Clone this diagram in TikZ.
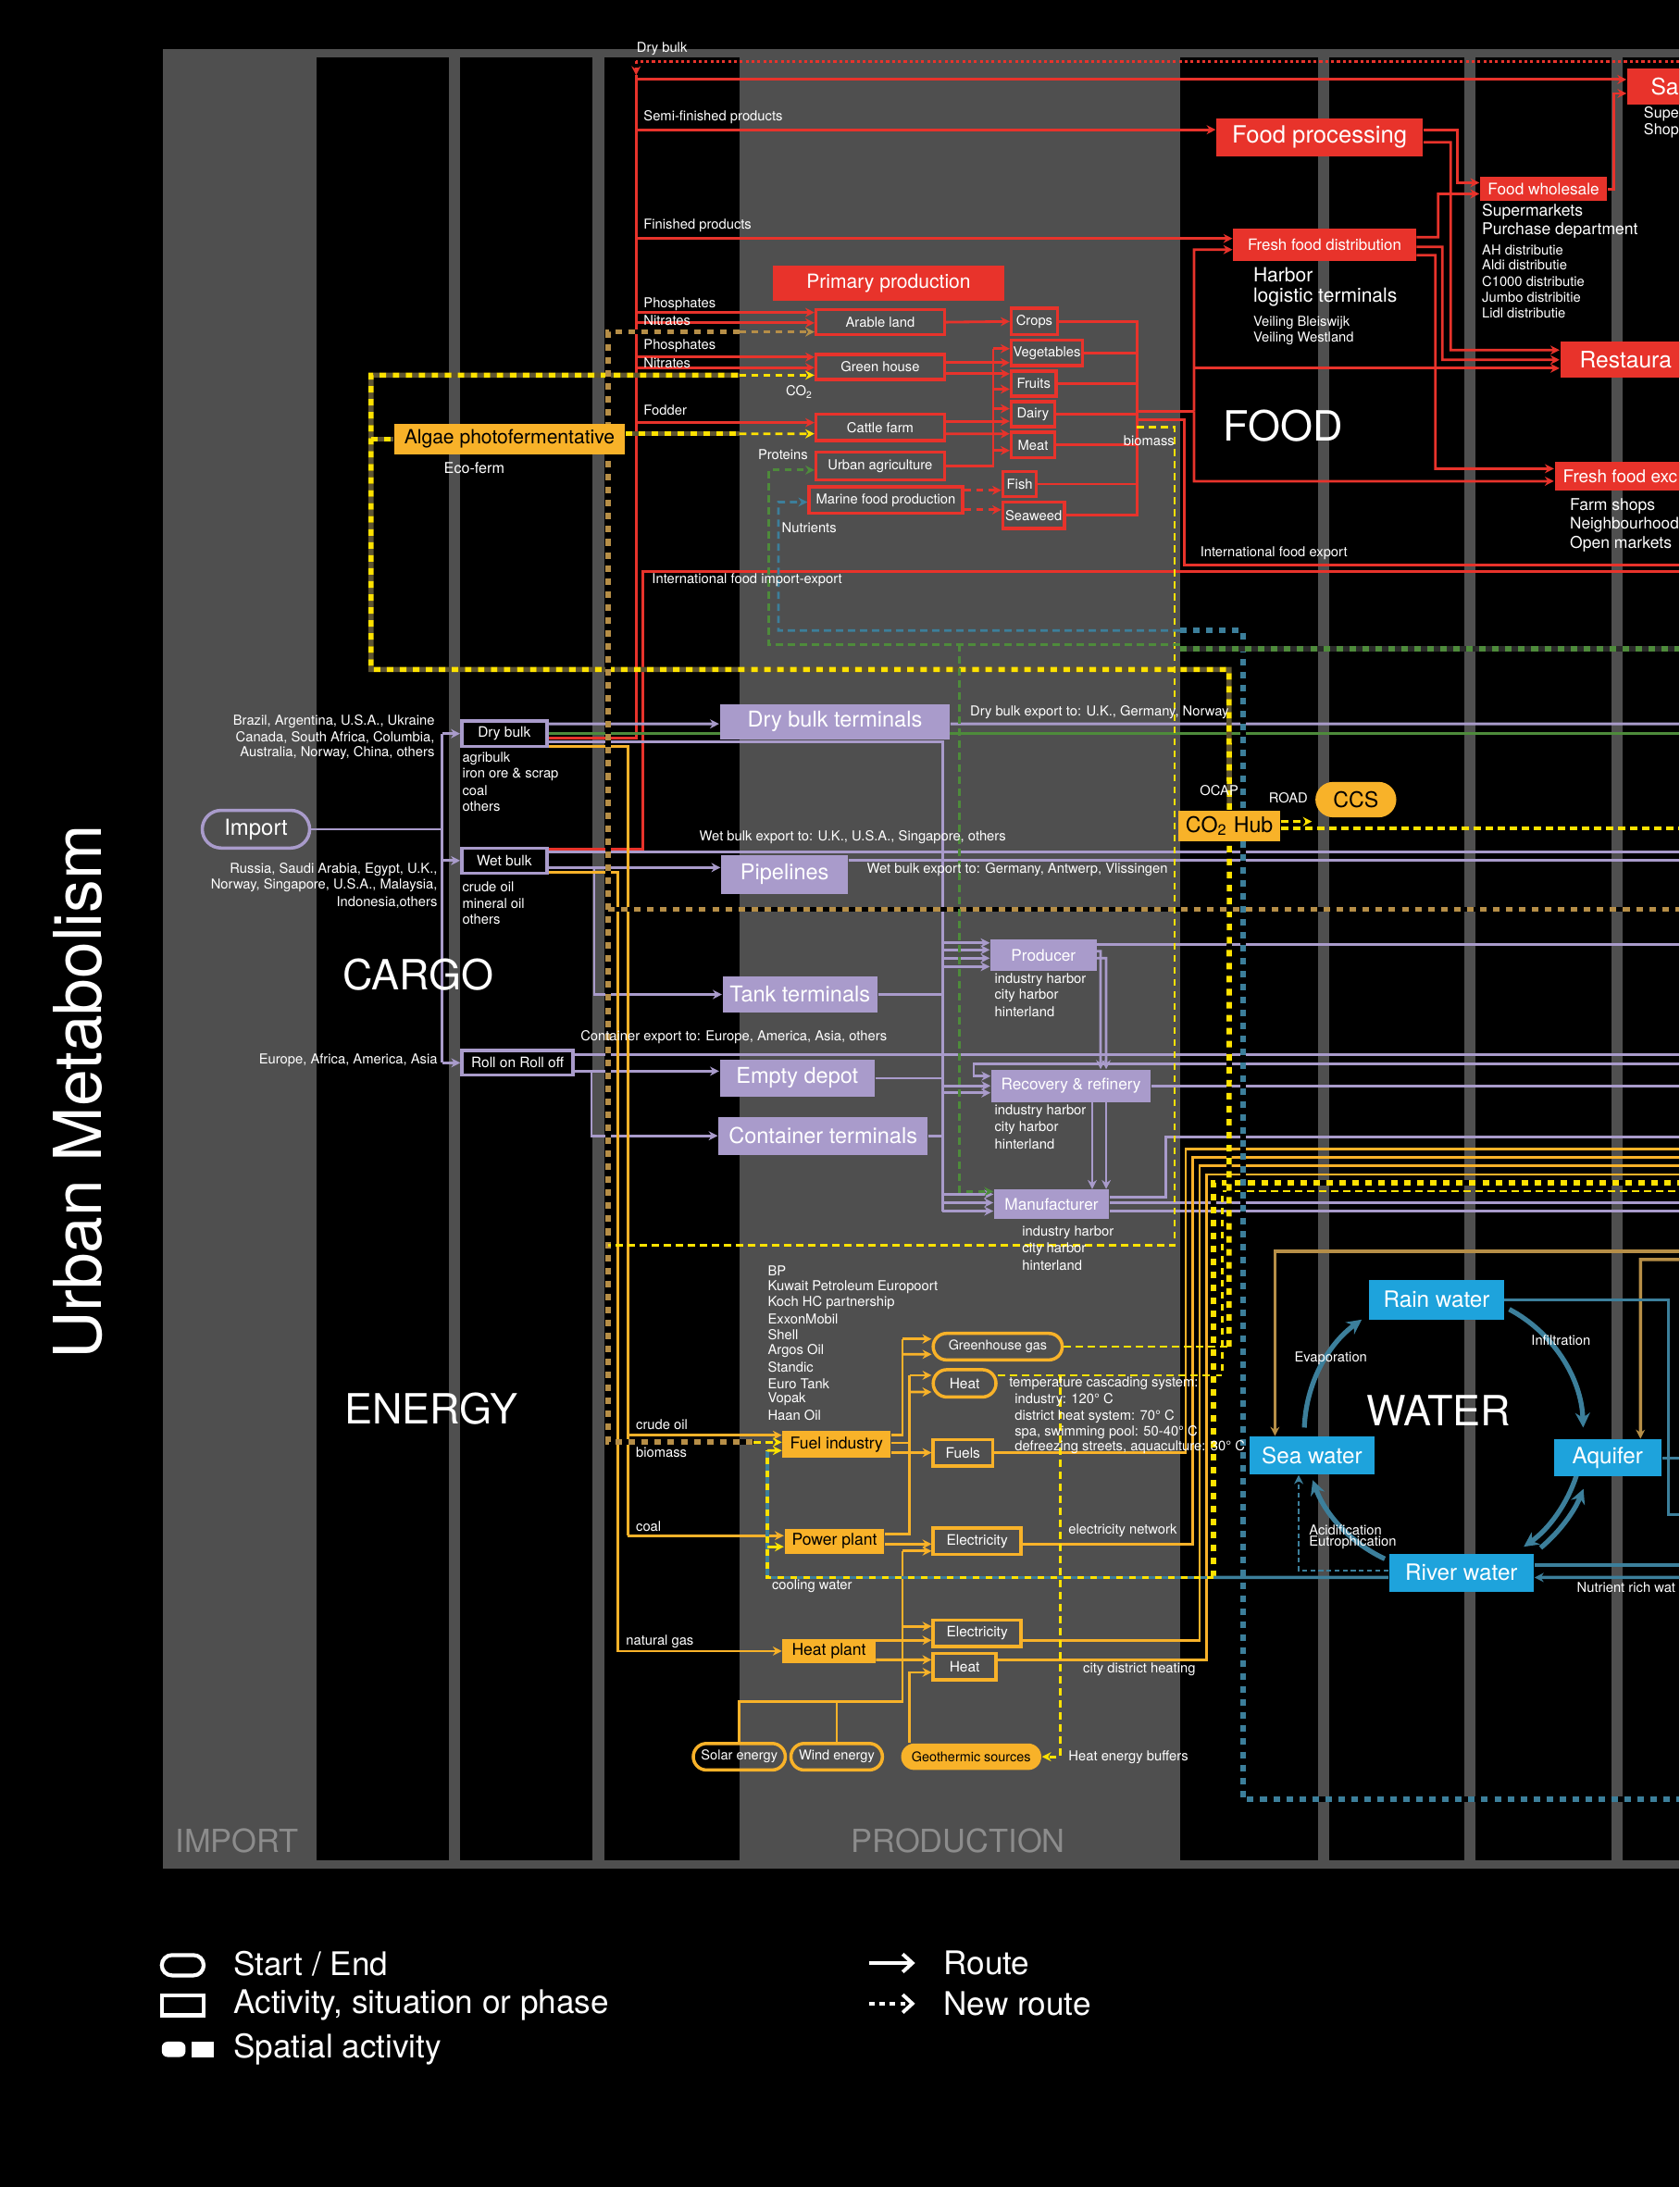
\documentclass[tikz,border=0pt]{standalone}
\usepackage{fontspec}
\setmainfont{TeX Gyre Heros}
\usetikzlibrary{arrows.meta,calc,shapes.misc}
\definecolor{fred}{HTML}{E8332B}
\definecolor{fpurple}{HTML}{A99BCB}
\definecolor{fyel}{HTML}{F8B229}
\definecolor{dyel}{HTML}{FFE200}
\definecolor{fblue}{HTML}{1EA3DC}
\definecolor{fteal}{HTML}{3C7F9B}
\definecolor{fgreen}{HTML}{4E8B3B}
\definecolor{ftan}{HTML}{B68E47}
\definecolor{dolive}{HTML}{5E5432}
\definecolor{fgray}{HTML}{4F4F4F}
\definecolor{lgray}{HTML}{8C8C8C}
\definecolor{dkgray}{HTML}{2A2A2A}
\newcommand\pxu{0.42885pt}
\pgfdeclarelayer{back}
\pgfdeclarelayer{wires}
\pgfsetlayers{back,wires,main}
\tikzset{
  sz/.style 2 args={minimum width=#1*\pxu, minimum height=#2*\pxu, inner sep=0pt},
  lbl/.style={text=white, inner sep=0pt, anchor=west, font=\fontsize{4.2}{5}\selectfont},
  rlbl/.style={lbl, anchor=east},
  clbl/.style={lbl, anchor=center},
  seclbl/.style={text=white, inner sep=0pt, font=\fontsize{12.8}{14}\selectfont},
  colname/.style={text=lgray, inner sep=0pt, font=\fontsize{9.8}{11}\selectfont},
  legtxt/.style={text=white, inner sep=0pt, anchor=west, font=\fontsize{10}{12}\selectfont},
  redfill/.style={fill=fred, text=white},
  redbox/.style={draw=fred, line width=1pt, text=white, font=\fontsize{4.2}{5}\selectfont},
  purfill/.style={fill=fpurple, text=white},
  purbox/.style={draw=fpurple, line width=1pt, text=white, font=\fontsize{4.4}{5}\selectfont},
  yelfill/.style={fill=fyel, text=black},
  yelbox/.style={draw=fyel, line width=1pt, text=white, font=\fontsize{4.4}{5}\selectfont},
  bluefill/.style={fill=fblue, text=white, font=\fontsize{6.9}{8}\selectfont},
  pill/.style={rounded rectangle},
  rl/.style={draw=fred, line width=0.8pt},
  pl/.style={draw=fpurple, line width=0.8pt},
  yl/.style={draw=fyel, line width=0.8pt},
  gl/.style={draw=fgreen, line width=0.8pt},
  tl/.style={draw=fteal, line width=1pt},
  newr/.style={line width=0.8pt, dash pattern=on 2.2pt off 1.5pt},
  arr/.style={-{Stealth[length=2.8pt,width=2.8pt]}},
  spat/.style 2 args={draw=#1, line width=1.6pt, dash pattern=on 2pt off 2pt,
    preaction={draw=#2, line width=1.6pt, dash pattern=on 2pt off 2pt, dash phase=2pt}},
  cool/.style={draw=dyel, line width=1.1pt, dash pattern=on 2pt off 2pt,
    preaction={draw=fteal, line width=1.1pt, dash pattern=on 2pt off 2pt, dash phase=2pt}},
  wloop/.style={draw=fteal, line width=1.5pt, -{Stealth[length=4.5pt,width=4.5pt]}},
}
\begin{document}
\begin{tikzpicture}[x=0.42885pt, y=-0.42885pt]
\useasboundingbox (0,0) rectangle (1204,1568);
\begin{pgfonlayer}{back}
\fill[black] (0,0) rectangle (1204,1568);
\fill[fgray] (117,35) rectangle (1204,1340);
\foreach \xa/\xb in {227/322,330/425,433/530,846/945,953/1050,1058/1155,1163/1204}
  \fill[black] (\xa,41) rectangle (\xb,1334);
\end{pgfonlayer}
\clip (0,0) rectangle (1204,1568);

% titles
\node[text=white, rotate=90, inner sep=0pt, font=\fontsize{20.3}{22}\selectfont] (title) at (56,783) {Urban Metabolism};
\node[colname] (colimport) at (170,1320) {IMPORT};
\node[colname] (colprod) at (687,1320) {PRODUCTION};
\node[seclbl] (food) at (920,305) {FOOD};
\node[seclbl] (cargo) at (300,698.6) {CARGO};
\node[seclbl] (energy) at (309,1010) {ENERGY};
\node[seclbl] (water) at (1031.5,1011) {WATER};

% food
\node[redfill, sz={166}{25}, font=\fontsize{6}{7}\selectfont] (pprod) at (637,203) {Primary production};
\node[redfill, sz={148}{27}, font=\fontsize{7.3}{8}\selectfont] (fproc) at (946,98.5) {Food processing};
\node[redfill, sz={131}{23}, font=\fontsize{4.8}{5}\selectfont] (ffd) at (949.5,175.5) {Fresh food distribution};
\node[redfill, sz={91}{17}, font=\fontsize{4.9}{5}\selectfont] (fwhole) at (1106.5,135.5) {Food wholesale};
\node[redfill, anchor=west, minimum height=26*\pxu, inner xsep=17*\pxu, inner ysep=0pt, font=\fontsize{7}{8}\selectfont] (sales) at (1166,62) {Sa};
\node[redfill, anchor=west, minimum height=26*\pxu, inner xsep=14*\pxu, inner ysep=0pt, font=\fontsize{7}{8}\selectfont] (rest) at (1118,258) {Restaura};
\node[redfill, anchor=west, minimum height=21*\pxu, inner xsep=6*\pxu, inner ysep=0pt, font=\fontsize{5.4}{6}\selectfont] (ffexp) at (1114,341.5) {Fresh food exc};
\node[redbox, sz={92}{18}] (arable) at (631,231) {Arable land};
\node[redbox, sz={92}{18}] (ghouse) at (631,263) {Green house};
\node[redbox, sz={92}{19}] (cattle) at (631,306.5) {Cattle farm};
\node[redbox, sz={92}{20}] (urbagr) at (631,334) {Urban agriculture};
\node[redbox, sz={110}{19}] (marine) at (635,358.5) {Marine food production};
\node[redbox, sz={33}{19}] (crops) at (741.5,230.5) {Crops};
\node[redbox, sz={51}{18}] (veg) at (750.5,253) {Vegetables};
\node[redbox, sz={32}{18}] (fruits) at (741,275) {Fruits};
\node[redbox, sz={31}{18}] (dairy) at (740.5,297) {Dairy};
\node[redbox, sz={31}{18}] (meat) at (740.5,319) {Meat};
\node[redbox, sz={24}{18}] (fish) at (731,347) {Fish};
\node[redbox, sz={44}{19}] (seaweed) at (741,369.5) {Seaweed};

\node[lbl] (ldrybulk) at (456,35) {Dry bulk};
\node[lbl] (lsemi) at (461,84) {Semi-finished products};
\node[lbl] (lfinished) at (461,162) {Finished products};
\node[lbl] (lphos1) at (461,218) {Phosphates};
\node[lbl] (lnitr1) at (461,230) {Nitrates};
\node[lbl] (lphos2) at (461,248) {Phosphates};
\node[lbl] (lnitr2) at (461,260) {Nitrates};
\node[lbl] (lfodder) at (461,294) {Fodder};
\node[lbl] (lco2) at (563,281) {CO\textsubscript{2}};
\node[lbl] (lprot) at (543,326) {Proteins};
\node[lbl] (lnutr) at (560,378.6) {Nutrients};
\node[lbl] (lbiomass) at (805,316) {biomass};
\node[lbl] (lintie) at (467,416) {International food import-export};
\node[lbl] (linte) at (860,396.5) {International food export};
\node[lbl, font=\fontsize{6}{7}\selectfont] (lharbor) at (898,197) {Harbor};
\node[lbl, font=\fontsize{6}{7}\selectfont] (llogi) at (898,213) {logistic terminals};
\node[lbl] (lveil1) at (898,231.6) {Veiling Bleiswijk};
\node[lbl] (lveil2) at (898,242.5) {Veiling Westland};
\node[lbl, font=\fontsize{5}{6}\selectfont] (lsuper) at (1062,152) {Supermarkets};
\node[lbl, font=\fontsize{5}{6}\selectfont] (lpurch) at (1062,165) {Purchase department};
\node[lbl] (lah) at (1062,179) {AH distributie};
\node[lbl] (laldi) at (1062,190) {Aldi distributie};
\node[lbl] (lc1000) at (1062,201.7) {C1000 distributie};
\node[lbl] (ljumbo) at (1062,213.4) {Jumbo distribitie};
\node[lbl] (llidl) at (1062,224.4) {Lidl distributie};
\node[lbl, font=\fontsize{4.6}{5}\selectfont] (lsupe) at (1178,82) {Supe};
\node[lbl, font=\fontsize{4.6}{5}\selectfont] (lshop) at (1178,94) {Shop};
\node[lbl, font=\fontsize{5}{6}\selectfont] (lfarm) at (1125,363) {Farm shops};
\node[lbl, font=\fontsize{4.9}{6}\selectfont] (lneigh) at (1125,376.5) {Neighbourhood};
\node[lbl, font=\fontsize{5}{6}\selectfont] (lopen) at (1125,390) {Open markets};

% cargo
\node[purbox, pill, sz={77}{27}, font=\fontsize{6.8}{8}\selectfont] (import) at (183.5,594.5) {Import};
\node[purbox, sz={61}{18}] (drybulk) at (361.5,526) {Dry bulk};
\node[purbox, sz={61}{18}] (wetbulk) at (361.5,617) {Wet bulk};
\node[purbox, sz={79.6}{17.4}] (roro) at (371,762) {Roll on Roll off};
\node[purfill, sz={165}{25}, font=\fontsize{6.7}{8}\selectfont] (dbt) at (598.5,517.5) {Dry bulk terminals};
\node[purfill, sz={91}{28}, font=\fontsize{6.7}{8}\selectfont] (pipes) at (562.5,627) {Pipelines};
\node[purfill, sz={111}{26}, font=\fontsize{6.7}{8}\selectfont] (tankt) at (573.5,713) {Tank terminals};
\node[purfill, sz={111}{27}, font=\fontsize{6.7}{8}\selectfont] (empty) at (571.5,773) {Empty depot};
\node[purfill, sz={150}{27.4}, font=\fontsize{6.7}{8}\selectfont] (contt) at (590,814.3) {Container terminals};
\node[purfill, sz={76}{22.4}, font=\fontsize{4.9}{6}\selectfont] (producer) at (748,685) {Producer};
\node[purfill, sz={114.4}{23}, font=\fontsize{4.9}{6}\selectfont] (recov) at (767.8,778.5) {Recovery \& refinery};
\node[purfill, sz={82.4}{20.6}, font=\fontsize{4.9}{6}\selectfont] (manuf) at (753.8,863.3) {Manufacturer};

\node[rlbl] (lsrc1) at (312,517) {Brazil, Argentina, U.S.A., Ukraine};
\node[rlbl] (lsrc2) at (312,528.6) {Canada, South Africa, Columbia,};
\node[rlbl] (lsrc3) at (312,540) {Australia, Norway, China, others};
\node[rlbl] (lsrc4) at (314,623.6) {Russia, Saudi Arabia, Egypt, U.K.,};
\node[rlbl] (lsrc5) at (314,635) {Norway, Singapore, U.S.A., Malaysia,};
\node[rlbl] (lsrc6) at (314,647) {Indonesia,others};
\node[rlbl] (lsrc7) at (314,760) {Europe, Africa, America, Asia};
\node[lbl] (ldb1) at (331,544) {agribulk};
\node[lbl] (ldb2) at (331,555.5) {iron ore \& scrap};
\node[lbl] (ldb3) at (331,567) {coal};
\node[lbl] (ldb4) at (331,578) {others};
\node[lbl] (lwb1) at (331,636) {crude oil};
\node[lbl] (lwb2) at (331,647.5) {mineral oil};
\node[lbl] (lwb3) at (331,659) {others};
\node[lbl] (lexdb) at (695,511) {Dry bulk export to: U.K., Germany, Norway};
\node[lbl] (lexwb1) at (501,600) {Wet bulk export to: U.K., U.S.A., Singapore, others};
\node[lbl] (lexwb2) at (621,623.4) {Wet bulk export to: Germany, Antwerp, Vlissingen};
\node[lbl] (lexct) at (415.8,743.4) {Container export to: Europe, America, Asia, others};
\node[clbl] (locap) at (874,566.5) {OCAP};
\node[clbl] (lroad) at (923.6,572) {ROAD};
\node[lbl] (lprod1) at (712.6,702.3) {industry harbor};
\node[lbl] (lprod2) at (712.6,713.8) {city harbor};
\node[lbl] (lprod3) at (712.6,725.7) {hinterland};
\node[lbl] (lrec1) at (712.6,797) {industry harbor};
\node[lbl] (lrec2) at (712.6,808.6) {city harbor};
\node[lbl] (lrec3) at (712.6,820.4) {hinterland};
\node[lbl] (lman1) at (732.4,883.5) {industry harbor};
\node[lbl] (lman2) at (732.4,895.3) {city harbor};
\node[lbl] (lman3) at (732.4,907) {hinterland};

% energy
\node[yelfill, sz={165.4}{21.7}, font=\fontsize{6}{7}\selectfont] (algae) at (365.3,314.9) {Algae photofermentative};
\node[clbl, font=\fontsize{4.6}{5}\selectfont] (lecoferm) at (340,335.5) {Eco-ferm};
\node[yelfill, sz={73.4}{22}, font=\fontsize{6.6}{8}\selectfont] (co2hub) at (881.3,592) {CO\textsubscript{2} Hub};
\node[yelfill, pill, sz={58}{25.4}, font=\fontsize{6.6}{8}\selectfont] (ccs) at (972,573.3) {CCS};
\node[yelfill, sz={77.5}{19}, font=\fontsize{5}{6}\selectfont] (fuel) at (599.75,1035.5) {Fuel industry};
\node[yelfill, sz={71.6}{18}, font=\fontsize{5}{6}\selectfont] (power) at (598.2,1105) {Power plant};
\node[yelfill, sz={66.5}{17.5}, font=\fontsize{5}{6}\selectfont] (heatpl) at (594.25,1183.75) {Heat plant};
\node[yelfill, pill, sz={100.5}{19}, font=\fontsize{4.1}{5}\selectfont] (geoth) at (696.25,1259.5) {Geothermic sources};
\node[yelbox, pill, sz={92.5}{19}, font=\fontsize{4.1}{5}\selectfont] (ghg) at (715.25,965.5) {Greenhouse gas};
\node[yelbox, pill, sz={45}{19.6}] (heat1) at (691.5,991.8) {Heat};
\node[yelbox, sz={42.6}{19}] (fuels) at (690.3,1041.5) {Fuels};
\node[yelbox, sz={63}{19}] (elec1) at (700.5,1105) {Electricity};
\node[yelbox, sz={63}{19}] (elec2) at (700.5,1171) {Electricity};
\node[yelbox, sz={45}{19}] (heat2) at (691.5,1195) {Heat};
\node[yelbox, pill, sz={66}{19}, font=\fontsize{4.15}{5}\selectfont] (solar) at (530,1259.5) {Solar energy};
\node[yelbox, pill, sz={65.6}{19}, font=\fontsize{4.15}{5}\selectfont] (wind) at (599.8,1259.5) {Wind energy};

\foreach \nm [count=\i] in {BP, Kuwait Petroleum Europoort, Koch HC partnership, ExxonMobil, Shell, Argos Oil, Standic, Euro Tank, Vopak, Haan Oil}
  \node[lbl] (comp\i) at (550,911+11.55*\i-11.55) {\nm};
\node[lbl] (lcrude) at (455.5,1021.4) {crude oil};
\node[lbl] (lbio) at (455.5,1041.5) {biomass};
\node[lbl] (lcoal) at (455.5,1094.2) {coal};
\node[lbl] (lgas) at (448.4,1176.8) {natural gas};
\node[lbl] (lcool) at (553,1137) {cooling water};
\node[lbl] (ltemp0) at (723,992) {temperature cascading system:};
\node[lbl] (ltemp1) at (727,1004) {industry: 120° C};
\node[lbl] (ltemp2) at (727,1015.5) {district heat system: 70° C};
\node[lbl] (ltemp3) at (727,1027) {spa, swimming pool: 50-40° C};
\node[lbl] (ltemp4) at (727,1037.6) {defreezing streets, aquaculture: 30° C};
\node[lbl] (lelnet) at (765.6,1097.5) {electricity network};
\node[lbl] (lcityh) at (776,1197) {city district heating};
\node[lbl] (lbuffer) at (765.6,1260) {Heat energy buffers};

% water
\node[bluefill, sz={96.3}{28.3}] (rain) at (1029.85,931.85) {Rain water};
\node[bluefill, sz={90}{27}] (sea) at (940.5,1043.5) {Sea water};
\node[bluefill, sz={77}{26.6}] (aquifer) at (1152.5,1045.3) {Aquifer};
\node[bluefill, sz={103.9}{27}] (river) at (1047.65,1127.5) {River water};
\node[clbl] (levap) at (954,973.6) {Evaporation};
\node[clbl] (linfil) at (1119,961) {Infiltration};
\node[lbl] (lacid) at (938,1097) {Acidification};
\node[lbl] (leutr) at (938,1106) {Eutrophication};
\node[lbl] (lnutw) at (1130,1138) {Nutrient rich wat};

% legend
\node[draw=white, line width=1.2pt, pill, sz={30}{14.6}] (lgstart) at (131,1409) {};
\node[legtxt] (lgstarttxt) at (167,1408) {Start / End};
\node[draw=white, line width=1.2pt, sz={30}{14.3}] (lgact) at (131,1437.8) {};
\node[legtxt] (lgacttxt) at (167,1437.5) {Activity, situation or phase};
\node[fill=white, rounded corners=1.8pt, sz={17}{11}] (lgsp1) at (124.5,1469.3) {};
\node[fill=white, sz={16}{11}] (lgsp2) at (145.5,1469.3) {};
\node[legtxt] (lgsptxt) at (167,1469) {Spatial activity};
\coordinate (lgra) at (623,1407.4);
\coordinate (lgrb) at (656,1407.4);
\coordinate (lgna) at (623,1436.5);
\coordinate (lgnb) at (656,1436.5);
\node[legtxt] (lgroute) at (676,1407.4) {Route};
\node[legtxt] (lgnew) at (676,1436.5) {New route};
\draw[white, line width=1.1pt, -{Straight Barb[length=3pt,width=5.5pt]}] (lgra) -- (lgrb);
\draw[white, line width=1.1pt, dash pattern=on 1.6pt off 1.6pt, -{Straight Barb[length=3pt,width=5.5pt]}] (lgna) -- (lgnb);

\begin{pgfonlayer}{wires}
% red routes
\draw[rl, dash pattern=on 0.9pt off 0.9pt] (1204,44) -- (456,44);
\draw[rl, dash pattern=on 0.9pt off 0.9pt, arr] (456,44) -- (456,54);
\draw[rl] ($(drybulk.east)+(0,3)$) -- (456,529) -- (456,54);
\draw[rl] ($(wetbulk.east)+(0,-8)$) -- (461,609) -- (461,410) -- (1204,410);
\draw[rl,arr] (456,57) -- ($(sales.west)+(0,-5)$);
\draw[rl,arr] (456,93) -- ($(fproc.west)+(0,-5.5)$);
\draw[rl,arr] (456,171) -- ($(ffd.west)+(0,-4.5)$);
\draw[rl,arr] (456,224) -- ($(arable.west)+(0,-7)$);
\draw[rl,arr] (456,231.5) -- ($(arable.west)+(0,0.5)$);
\draw[rl,arr] (456,256) -- ($(ghouse.west)+(0,-7)$);
\draw[rl,arr] (456,263.5) -- ($(ghouse.west)+(0,0.5)$);
\draw[rl,arr] (456,303) -- ($(cattle.west)+(0,-3.5)$);
\draw[rl,arr] (arable.east) -- (crops.west);
\draw[rl,arr] ($(ghouse.east)+(0,-3)$) -- ($(veg.west)+(0,7)$);
\draw[rl,arr] ($(ghouse.east)+(0,5)$) -- ($(fruits.west)+(0,-7)$);
\draw[rl,arr] ($(cattle.east)+(0,-4.5)$) -- ($(dairy.west)+(0,5)$);
\draw[rl,arr] ($(cattle.east)+(0,4.5)$) -- ($(meat.west)+(0,-8)$);
\draw[rl] (urbagr.east) -- (712,334) -- (712,250);
\draw[rl,arr] (712,250) -- ($(veg.west)+(0,-3)$);
\draw[rl,arr] (712,279) -- ($(fruits.west)+(0,4)$);
\draw[rl,arr] (712,293) -- ($(dairy.west)+(0,-4)$);
\draw[rl,arr] (712,323) -- ($(meat.west)+(0,4)$);
\draw[rl,newr,arr] ($(marine.east)+(0,-7)$) -- ($(fish.west)+(0,4.5)$);
\draw[rl,newr,arr] ($(marine.east)+(0,7)$) -- ($(seaweed.west)+(0,-4)$);
\draw[rl] (crops.east) -- (815,230.5) -- (815,369.5) -- (seaweed.east);
\foreach \nd in {veg,fruits,dairy,meat,fish}
  \draw[rl] (\nd.east) -- (815,0 |- \nd.east);
\draw[rl] (815,295) -- (856,295);
\draw[rl,arr] (856,295) -- (856,179) -- ($(ffd.west)+(0,3.5)$);
\draw[rl,arr] (856,295) -- (856,345) -- ($(ffexp.west)+(0,3.5)$);
\draw[rl,arr] (856,264) -- ($(rest.west)+(0,6)$);
\draw[rl] (815,301) -- (849,301) -- (849,405) -- (1204,405);
\draw[rl,arr] ($(fproc.east)+(0,-5.5)$) -- (1045,93) -- (1045,131) -- ($(fwhole.west)+(0,-4.5)$);
\draw[rl,arr] ($(fproc.east)+(0,3.5)$) -- (1040,102) -- (1040,251) -- ($(rest.west)+(0,-7)$);
\draw[rl,arr] ($(ffd.east)+(0,-5.5)$) -- (1031,170) -- (1031,139) -- ($(fwhole.west)+(0,3.5)$);
\draw[rl,arr] ($(ffd.east)+(0,1.5)$) -- (1034,177) -- (1034,258) -- (rest.west);
\draw[rl,arr] ($(ffd.east)+(0,7.5)$) -- (1029,183) -- (1029,336) -- ($(ffexp.west)+(0,-5.5)$);
\draw[rl,arr] (fwhole.east) -- (1157,135.5) -- (1157,67) -- ($(sales.west)+(0,5)$);

% cargo routes
\draw[pl] (import.east) -- (317,594.5);
\draw[pl] (317,526) -- (317,762);
\draw[pl,arr] (317,526) -- (drybulk.west);
\draw[pl,arr] (317,617) -- (wetbulk.west);
\draw[pl,arr] (317,762) -- (roro.west);
\draw[pl,arr] ($(drybulk.east)+(0,-7)$) -- ($(dbt.west)+(0,1.5)$);
\draw[gl] (drybulk.east) -- (1204,526);
\draw[pl] ($(drybulk.east)+(0,6)$) -- (676,532) -- (676,868.3);
\draw[pl] ($(dbt.east)+(0,1.5)$) -- (1204,519);
\draw[pl] ($(wetbulk.east)+(0,-6)$) -- (1204,611);
\draw[pl,arr] ($(wetbulk.east)+(0,5)$) -- ($(pipes.west)+(0,-5)$);
\draw[pl,arr] (426,622) -- (426,713) -- (tankt.west);
\draw[pl] ($(pipes.east)+(0,-10)$) -- (1204,617);
\draw[pl] ($(roro.east)+(0,-6)$) -- (1204,756);
\draw[pl,arr] ($(roro.east)+(0,6)$) -- ($(empty.west)+(0,-5)$);
\draw[pl,arr] (424,768) -- (424,814.3) -- (contt.west);
\draw[pl] (tankt.east) -- (676,713);
\draw[pl] (empty.east) -- (676,773);
\draw[pl] (contt.east) -- (676,814.3);
\foreach \dy in {-9,-4,2,8}
  \draw[pl,arr] ($(producer.west)+(-34,\dy)$) -- ($(producer.west)+(0,\dy)$);
\foreach \dy in {0,5}
  \draw[pl,arr] ($(recov.west)+(-34.6,\dy)$) -- ($(recov.west)+(0,\dy)$);
\draw[pl,arr] (1204,763) -- (698,763) -- (698,771.5) -- ($(recov.west)+(0,-7)$);
\foreach \dy in {-7,-1,5}
  \draw[pl,arr] ($(manuf.west)+(-36.6,\dy)$) -- ($(manuf.west)+(0,\dy)$);
\draw[pl] ($(producer.east)+(0,-8)$) -- (1204,677);
\draw[pl,arr] ($(producer.east)+(0,-3)$) -- (789,682) -- ($(recov.north)+(21.2,0)$);
\draw[pl,arr] ($(producer.east)+(0,2)$) -- (793,687) -- ($(recov.north)+(25.2,0)$);
\draw[pl,arr] ($(recov.south)+(15.2,0)$) -- ($(manuf.north)+(29.2,0)$);
\draw[pl,arr] ($(recov.south)+(25.2,0)$) -- ($(manuf.north)+(39.2,0)$);
\draw[pl] (recov.east) -- (1204,778.5);
\draw[pl] ($(manuf.east)+(0,-5)$) -- (836,858.3) -- (836,815) -- (1204,815);
\draw[pl] ($(manuf.east)+(0,-1)$) -- (1204,862.3);
\draw[pl] ($(manuf.east)+(0,5)$) -- (1204,868.3);

% energy routes
\draw[yl] ($(drybulk.east)+(0,9)$) -- (450,535) -- (450,1101);
\draw[yl,arr] (450,1029) -- ($(fuel.west)+(0,-6.5)$);
\draw[yl,arr] (450,1101) -- ($(power.west)+(0,-4)$);
\draw[yl,arr] ($(wetbulk.east)+(0,8.5)$) -- (443,625.5) -- (443,1183.75) -- (heatpl.west);
\draw[yl] ($(fuel.east)+(0,-6.5)$) -- (647,1029) -- (647,960);
\draw[yl,arr] (647,960) -- ($(ghg.west)+(0,-5.5)$);
\draw[yl,arr] (647,971) -- ($(ghg.west)+(0,5.5)$);
\draw[yl] ($(fuel.east)+(0,-1)$) -- (652,1034.5) -- (652,986);
\draw[yl,arr] (652,986) -- ($(heat1.west)+(0,-5.8)$);
\draw[yl,arr] (652,998) -- ($(heat1.west)+(0,6.2)$);
\draw[yl,arr] ($(fuel.east)+(0,6)$) -- (fuels.west);
\draw[yl] ($(power.east)+(0,-5)$) -- (652,1100) -- (652,1034.5);
\draw[yl,arr] ($(power.east)+(0,2)$) -- ($(elec1.west)+(0,2)$);
\draw[yl] (solar.north) -- (530,1220) -- (647,1220) -- (647,1112);
\draw[yl] (wind.north) -- (599.8,1220);
\draw[yl,arr] (647,1112) -- ($(elec1.west)+(0,7)$);
\draw[yl,arr] (647,1166) -- ($(elec2.west)+(0,-5)$);
\draw[yl,arr] ($(heatpl.east)+(0,-7.75)$) -- ($(elec2.west)+(0,5)$);
\draw[yl,arr] ($(heatpl.east)+(0,6.25)$) -- ($(heat2.west)+(0,-5)$);
\draw[yl,arr] ($(geoth.north)+(-44.25,0)$) -- (652,1199) -- ($(heat2.west)+(0,4)$);
\draw[yl] (fuels.east) -- (850,1041.5) -- (850,824) -- (1204,824);
\draw[yl] ($(elec1.east)+(0,2)$) -- (855,1107) -- (855,830) -- (1204,830);
\draw[yl] ($(elec2.east)+(0,5)$) -- (860,1176) -- (860,836) -- (1204,836);
\draw[yl] ($(heat2.east)+(0,-5)$) -- (865,1190) -- (865,842) -- (1204,842);
\draw[dyel, newr] ($(heat1.east)+(0,-5.8)$) -- (876,986) -- (876,854) -- (1204,854);
\draw[dyel, newr, arr] (760,986) -- (760,1259.5) -- (geoth.east);
\draw[cool] (870,1131) -- (550,1131) -- (550,1040);
\draw[dyel, line width=0.8pt, arr] (550,1040) -- ($(fuel.west)+(0,4.5)$);
\draw[dyel, line width=0.8pt, arr] (550,1109) -- ($(power.west)+(0,4)$);
\draw[spat={dyel}{black}] (870,1131) -- (870,848) -- (1204,848);

% spatial and new routes
\draw[dyel, newr] (ghg.east) -- (881,965.5);
\draw[spat={dyel}{black}] (881,965.5) -- (co2hub.south);
\draw[spat={dyel}{dolive}] (co2hub.north) -- (881,480) -- (266,480) -- (266,269) -- (530,269);
\draw[dyel, newr, arr] (530,269) -- ($(ghouse.west)+(0,6)$);
\draw[spat={dyel}{dolive}] (266,314.9) -- (algae.west);
\draw[spat={dyel}{dolive}] ($(algae.east)+(0,-3.9)$) -- (530,311);
\draw[dyel, newr, arr] (530,311) -- ($(cattle.west)+(0,4.5)$);
\draw[dyel, newr, arr] ($(co2hub.east)+(0,-3)$) -- ($(ccs.west)+(-2,15.7)$);
\draw[dyel, line width=1.2pt, dash pattern=on 2.2pt off 1.5pt] ($(co2hub.east)+(0,2)$) -- (1204,594);
\draw[spat={ftan}{black}] (530,238) -- (436,238) -- (436,1034) -- (540,1034);
\draw[ftan, newr, arr] (530,238) -- ($(arable.west)+(0,7)$);
\draw[dyel, newr, arr] (540,1034) -- ($(fuel.west)+(0,-1.5)$);
\draw[spat={ftan}{black}] (436,652) -- (1204,652);
\draw[dyel, newr] (815,306) -- (842,306) -- (842,893) -- (436,893);
\draw[spat={fteal}{black}] (846,452) -- (891,452) -- (891,1290) -- (1204,1290);
\draw[fteal, newr, arr] (846,452) -- (558,452) -- (558,360) -- ($(marine.west)+(0,1.5)$);
\draw[fgreen, newr, arr] (846,462) -- (551,462) -- (551,337) -- ($(urbagr.west)+(0,3)$);
\draw[fgreen, newr, arr] (688,462) -- (688,854.3) -- ($(manuf.west)+(0,-9)$);
\draw[spat={fgreen}{dkgray}] (846,465) -- (1204,465);

% water routes
\draw[tl] (870,1131) -- ($(river.west)+(0,3.5)$);
\draw[ftan, line width=1pt, arr] (1204,897) -- (914,897) -- ($(sea.north)+(-26.5,0)$);
\draw[ftan, line width=1pt, arr] (1204,903) -- (1176,903) -- ($(aquifer.north)+(23.5,0)$);
\draw[tl] (rain.east) -- (1196,931.85) -- (1196,1086) -- (1204,1086);
\draw[tl] (aquifer.east) -- (1204,1045.3);
\draw[tl] ($(river.east)+(0,-5.5)$) -- (1204,1122);
\draw[tl,arr] (1204,1131) -- ($(river.east)+(0,3.5)$);
\draw[fteal, line width=0.6pt, dash pattern=on 1.5pt off 1pt, arr] ($(river.west)+(0,-1.5)$) -- (931,1126) -- ($(sea.south)+(-9.5,0)$);
\coordinate (wc) at (1035,1027);
\draw[wloop] ($(wc)+(-178:100)$) arc[start angle=-178, end angle=-126, radius=100];
\draw[wloop] ($(wc)+(-62:100)$) arc[start angle=-62, end angle=-2, radius=100];
\draw[wloop] ($(wc)+(18:100)$) arc[start angle=18, end angle=55, radius=100];
\draw[wloop] ($(wc)+(50:108)$) arc[start angle=50, end angle=22, radius=108];
\draw[wloop] ($(wc)+(115:100)$) arc[start angle=115, end angle=160, radius=100];
\end{pgfonlayer}
\end{tikzpicture}
\end{document}
